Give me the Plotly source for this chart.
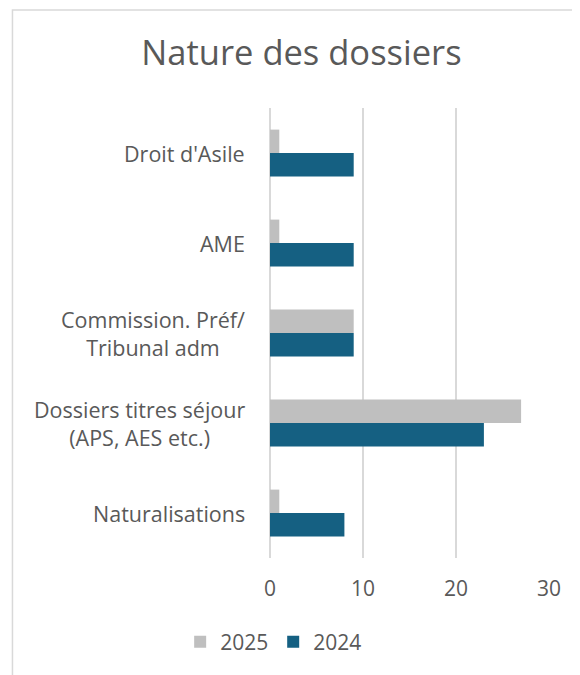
import plotly.graph_objects as go

categories = ["Droit d'Asile", "AME", "Commission. Préf/<br>Tribunal adm",
              "Dossiers titres séjour<br>(APS, AES etc.)", "Naturalisations"]
values_2025 = [1, 1, 9, 27, 1]
values_2024 = [9, 9, 9, 23, 8]
x_ticks = [0, 10, 20, 30]

FONT = "Open Sans"
TXT = "#595959"
W, H = 572, 667
L, T, PW, PH = 262, 100, 279.5, 450

fig = go.Figure()
fig.add_trace(go.Bar(y=categories, x=values_2025, name="2025", orientation="h",
                     marker=dict(color="#BFBFBF", line=dict(width=0))))
fig.add_trace(go.Bar(y=categories, x=values_2024, name="2024", orientation="h",
                     marker=dict(color="#156082", line=dict(width=0))))

for c in categories:
    fig.add_annotation(x=0, xref="paper", y=c, yref="y", text=c, showarrow=False,
                       xanchor="right", align="center", xshift=-23,
                       font=dict(family=FONT, size=21.5, color=TXT))

fig.add_shape(type="rect", xref="paper", yref="paper",
              x0=(4 - L) / PW, x1=2, y0=-2, y1=1 + (T - 2) / PH,
              line=dict(color="#D9D9D9", width=1.5), fillcolor="rgba(0,0,0,0)", layer="below")

fig.update_layout(
    width=W, height=H,
    margin=dict(l=L, r=W - L - PW, t=T, b=H - T - PH),
    paper_bgcolor="white", plot_bgcolor="white",
    barmode="group", bargap=0.48, bargroupgap=0,
    title=dict(text="Nature des dossiers", x=293.5 / W, xanchor="center",
               y=1 - 45 / H, yanchor="middle", yref="container",
               font=dict(family=FONT, size=34.5, color=TXT)),
    font=dict(family=FONT, size=21.5, color=TXT),
    xaxis=dict(range=[0, 30], tickvals=x_ticks, showgrid=True, gridcolor="#D9D9D9",
               gridwidth=1.5, zeroline=True, zerolinecolor="#D9D9D9", zerolinewidth=1.5,
               showline=False, ticks="", ticklabelstandoff=16,
               tickfont=dict(family=FONT, size=21, color=TXT)),
    yaxis=dict(categoryorder="array", categoryarray=categories, autorange="reversed",
               showticklabels=False, showgrid=False, zeroline=False, showline=False, ticks=""),
    legend=dict(orientation="h", x=(172 - L) / PW, xanchor="left",
                y=(T + PH - 634) / PH, yanchor="middle",
                font=dict(family=FONT, size=21, color=TXT), itemwidth=30),
)

fig.write_html("out.html")
